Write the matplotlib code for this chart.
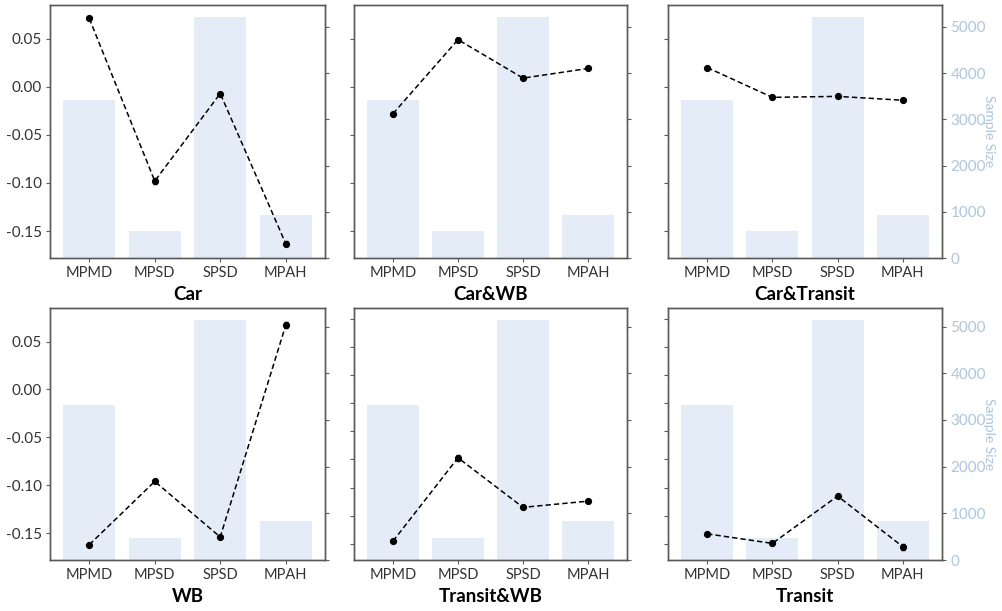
"""
Mean effect per travel-pattern group for each mode combination, with the
group sample size drawn as bars behind it on a secondary axis.

Usage: python plot.py
Outputs: out.png
"""

import matplotlib
matplotlib.use("Agg")
import matplotlib.pyplot as plt
import numpy as np

GROUPS = ["MPMD", "MPSD", "SPSD", "MPAH"]
MODES = ["Car", "Car&WB", "Car&Transit", "WB", "Transit&WB", "Transit"]

# mean effect (points) and its standard error, one list per mode
EFFECT = {
    "Car":         [0.071, -0.098, -0.007, -0.163],
    "Car&WB":      [-0.028, 0.049, 0.009, 0.019],
    "Car&Transit": [0.020, -0.011, -0.010, -0.014],
    "WB":          [-0.162, -0.096, -0.154, 0.067],
    "Transit&WB":  [-0.395, -0.247, -0.335, -0.324],
    "Transit":     [-0.382, -0.399, -0.315, -0.405],
}
STDERR = {
    "Car":         [0.001, 0.003, 0.002, 0.003],
    "Car&WB":      [0.001, 0.002, 0.001, 0.001],
    "Car&Transit": [0.001, 0.002, 0.001, 0.001],
    "WB":          [0.001, 0.001, 0.001, 0.003],
    "Transit&WB":  [0.002, 0.005, 0.003, 0.002],
    "Transit":     [0.002, 0.003, 0.004, 0.005],
}

# sample size per group (bars, right axis)
N_TOP = [3410, 580, 5210, 930]
N_BOTTOM = [3330, 470, 5140, 840]

# shared effect scale for the first four panels; the two transit/WB panels
# use a wider scale of their own
SHARED_YLIM = (-0.178, 0.085)
SHARED_TICKS = [-0.15, -0.10, -0.05, 0.00, 0.05]
WIDE_YLIM = (-0.4285, 0.019)
WIDE_TICKS = list(np.arange(-0.40, 0.001, 0.05))

BAR_COLOR = "#e4edf7"
SIZE_COLOR = "#adc6de"
SPINE_COLOR = "#5a5a5a"

W, H = 1003, 611
COLS = [(50, 325), (354, 627), (668, 942)]
ROWS = [(5, 258), (308, 560)]

plt.rcParams["font.family"] = ["Lato", "DejaVu Sans"]

fig = plt.figure(figsize=(W / 100, H / 100), dpi=100)

for i, mode in enumerate(MODES):
    r, c = divmod(i, 3)
    x0, x1 = COLS[c]
    y0, y1 = ROWS[r]
    ax = fig.add_axes([x0 / W, 1 - y1 / H, (x1 - x0) / W, (y1 - y0) / H])
    ax2 = ax.twinx()

    sizes = N_TOP if r == 0 else N_BOTTOM
    x = np.arange(len(GROUPS))
    ax2.bar(x, sizes, width=0.8, color=BAR_COLOR, zorder=1)

    ax.errorbar(x, EFFECT[mode], yerr=STDERR[mode], color="black", ls=(0, (3.5, 2)),
                lw=1.1, marker="o", ms=4.2, capsize=1.5, elinewidth=0.9)

    # effect line above the bars
    ax.set_zorder(ax2.get_zorder() + 1)
    ax.patch.set_visible(False)

    wide = mode in ("Transit&WB", "Transit")
    ax.set_ylim(WIDE_YLIM if wide else SHARED_YLIM)
    ax.set_yticks(WIDE_TICKS if wide else SHARED_TICKS)
    if c == 0:
        ax.set_yticklabels([f"{t:.2f}" for t in SHARED_TICKS])
    else:
        ax.set_yticklabels([])

    ax2.set_yticks(range(0, 5001, 1000))
    if c == 2:
        ax2.tick_params(axis="y", labelcolor=SIZE_COLOR, labelsize=11)
        ax2.set_ylabel("Sample Size", color=SIZE_COLOR, fontsize=10,
                       rotation=270, va="center")
        ax2.yaxis.set_label_coords(1.17, 0.5)
    else:
        ax2.set_yticklabels([])

    ax.set_xticks(x)
    ax.set_xticklabels(GROUPS, fontsize=10.5, color="#333333")
    ax.set_xlim(-0.6, 3.6)
    ax.set_xlabel(mode, fontsize=13.5, fontweight="bold", labelpad=4)
    ax.tick_params(axis="y", labelsize=11, labelcolor="#333333")

    for a in (ax, ax2):
        a.tick_params(length=3, width=0.8, color=SPINE_COLOR, pad=3)
        for s in a.spines.values():
            s.set_color(SPINE_COLOR)
            s.set_linewidth(1.0)

fig.savefig("out.png", dpi=100)
